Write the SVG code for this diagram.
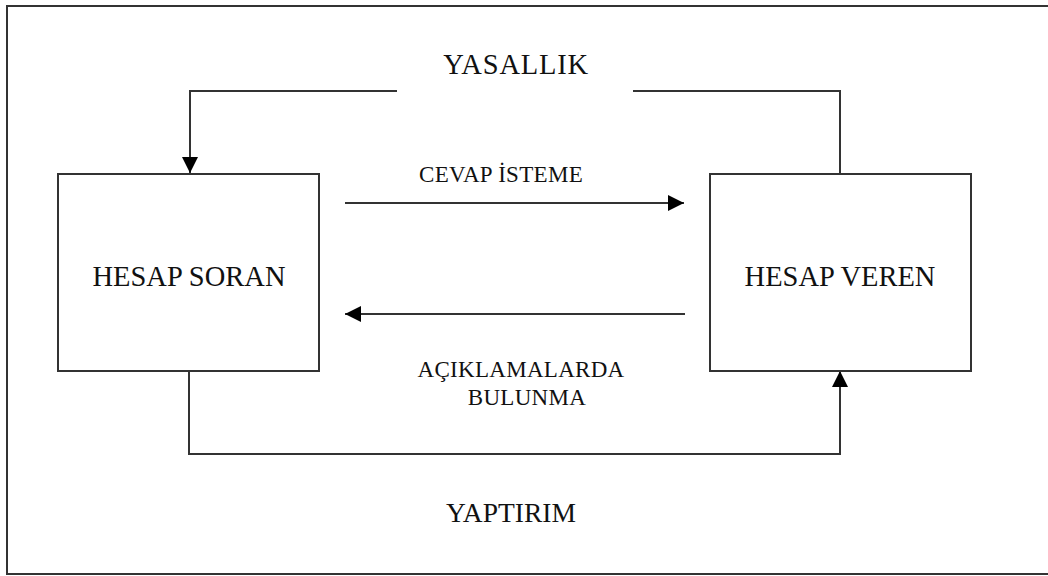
<svg xmlns="http://www.w3.org/2000/svg" width="1048" height="576" viewBox="0 0 1048 576">
<defs>
<style>
.ln{fill:none;stroke:#333;stroke-width:2}
.box{fill:#fff;stroke:#333;stroke-width:2}
.t{font-family:"Liberation Serif","Times New Roman",serif;fill:#111;text-anchor:middle}
.big{font-size:28.5px}
.sm{font-size:23px;letter-spacing:0.3px}
</style>
<marker id="ah" viewBox="0 0 10 10" refX="10" refY="5" markerWidth="17" markerHeight="16" markerUnits="userSpaceOnUse" orient="auto">
<path d="M0,0 L10,5 L0,10 Z" fill="#000"/>
</marker>
</defs>
<rect x="0" y="0" width="1048" height="576" fill="#fff"/>
<rect x="7" y="6" width="1042" height="568" class="ln"/>
<g id="connectors">
<polyline class="ln" points="397,91 190,91 190,173" marker-end="url(#ah)"/>
<polyline class="ln" points="633,91 840,91 840,174"/>
<line class="ln" x1="345" y1="203" x2="684" y2="203" marker-end="url(#ah)"/>
<line class="ln" x1="685" y1="314" x2="345" y2="314" marker-end="url(#ah)"/>
<polyline class="ln" points="189,371 189,454 840,454 840,371" marker-end="url(#ah)"/>
</g>
<g id="hesap-soran">
<rect class="box" x="58" y="174" width="261" height="197"/>
<text class="t big" x="189" y="286">HESAP SORAN</text>
</g>
<g id="hesap-veren">
<rect class="box" x="710" y="174" width="261" height="197"/>
<text class="t big" x="840" y="286">HESAP VEREN</text>
</g>
<g id="labels">
<text class="t big" x="516" y="74" style="letter-spacing:0.8px">YASALLIK</text>
<text class="t sm" x="501" y="182">CEVAP İSTEME</text>
<text class="t sm" x="521" y="377">AÇIKLAMALARDA</text>
<text class="t sm" x="527" y="405">BULUNMA</text>
<text class="t big" x="511" y="522" style="font-size:27.5px">YAPTIRIM</text>
</g>
</svg>
